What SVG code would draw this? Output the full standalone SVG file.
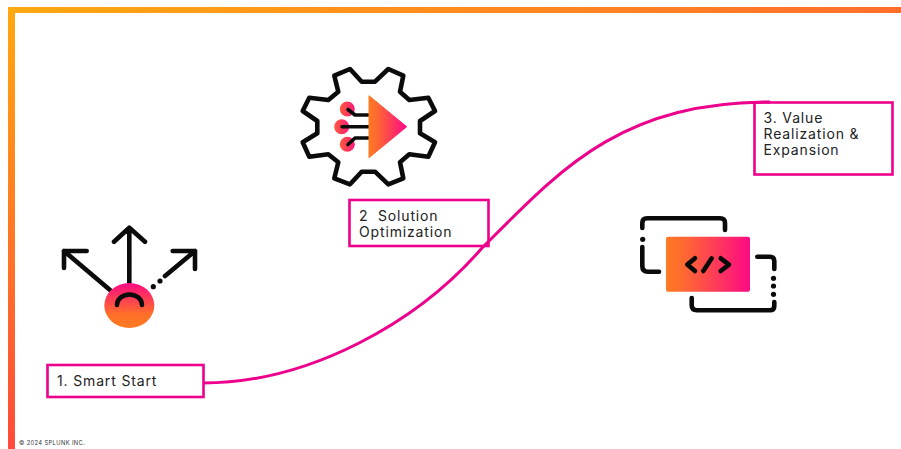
<svg xmlns="http://www.w3.org/2000/svg" width="901" height="449" viewBox="0 0 901 449">
<style>
.box{fill:none;stroke:#EC008C;stroke-width:2.6}
.lb{font-family:Inter,"Liberation Sans",sans-serif;font-size:14px;letter-spacing:.85px;fill:#222}
.ic{fill:none;stroke:#0b0b0b;stroke-width:4.6;stroke-linecap:round;stroke-linejoin:round}
.dot{fill:#0b0b0b}
</style>
<defs>
<linearGradient id="gTop" x1="0" x2="1" y1="0" y2="0"><stop offset="0" stop-color="#FFA80F"/><stop offset="1" stop-color="#FF6F2C"/></linearGradient>
<linearGradient id="gLeft" x1="0" x2="0" y1="0" y2="1"><stop offset="0" stop-color="#FFA80F"/><stop offset="1" stop-color="#FF4A3A"/></linearGradient>
<linearGradient id="gOP" x1="0" x2="1" y1="0" y2="0"><stop offset="0" stop-color="#FF7A22"/><stop offset=".2" stop-color="#FF6A30"/><stop offset="1" stop-color="#FF0A84"/></linearGradient>
<linearGradient id="gPO" x1="0" x2="0" y1="0" y2="1"><stop offset="0" stop-color="#FF0A84"/><stop offset=".7" stop-color="#FF7028"/><stop offset="1" stop-color="#FF7A22"/></linearGradient>
<linearGradient id="gDots" x1="0" x2="1" y1="0" y2="0"><stop offset="0" stop-color="#FF5A3C"/><stop offset="1" stop-color="#FF1A7A"/></linearGradient>
</defs>
<rect width="901" height="449" fill="#fff"/>
<g id="frame">
<rect x="8" y="7" width="893" height="6" fill="url(#gTop)"/>
<rect x="8" y="7" width="7" height="442" fill="url(#gLeft)"/>
</g>
<g id="connectors">
<path d="M203 383C310 383 418 322 482 248C560 170 620 102 770 102" fill="none" stroke="#EC008C" stroke-width="3"/>
</g>
<g id="node-smart-start">
<rect class="box" x="47.5" y="365" width="156" height="32"/>
<text class="lb" x="57" y="385.5">1. Smart Start</text>
</g>
<g id="icon-arrows">
<path class="ic" d="M129.3 283V228M114 241.7L129.3 227.7L145 241.7M110 290L64 251M64 268V251H86.7M165 276L195 251M172.7 251H195V269"/>
<circle class="dot" cx="160" cy="281" r="2.6"/>
<circle class="dot" cx="153.3" cy="286.7" r="2.6"/>
<ellipse cx="129.3" cy="305.5" rx="25" ry="22.5" fill="url(#gPO)"/>
<path class="ic" d="M117 305A12.5 10.5 0 0 1 142 305"/>
</g>
<g id="node-solution">
<rect class="box" x="349.5" y="200" width="139" height="46"/>
<text class="lb" x="359" y="220.5" xml:space="preserve">2  Solution</text>
<text class="lb" x="359" y="236.5">Optimization</text>
</g>
<g id="icon-gear">
<path class="ic" d="M334.3 75.7L350 69L361.7 81.7H375L388.3 69L403.3 75.7L400 91.7L409.3 100L428.3 97.7L435 111L420 121V133.3L435 142.3L428.3 156.7L409.3 154.3L400 162.3L403.3 178.3L388.3 184.3L375 171.7H361.7L350 184.3L334.3 178.3L338.3 162.3L328.3 154.3L309.3 156.7L302.7 142.3L317.3 133.3V121L302.7 111L309.3 97.7L328.3 100L338.3 91.7Z"/>
<circle cx="347.3" cy="109" r="7.5" fill="url(#gDots)"/>
<circle cx="341.7" cy="126.7" r="7.5" fill="url(#gDots)"/>
<circle cx="347.3" cy="144.3" r="7.5" fill="url(#gDots)"/>
<path class="ic" style="stroke-width:3.6" d="M348 109.5L355 115H369M342 126.7H369M348 144.5L355 138H369"/>
<path d="M369 95.7L406.7 126.7L369 157.7Z" fill="url(#gOP)" stroke="url(#gOP)" stroke-width="1" stroke-linejoin="round"/>
</g>
<g id="node-value">
<rect class="box" x="754.5" y="102.5" width="138" height="72"/>
<text class="lb" x="763.5" y="122.5">3. Value</text>
<text class="lb" x="763.5" y="138.5">Realization &amp;</text>
<text class="lb" x="763.5" y="154.5">Expansion</text>
</g>
<g id="icon-code">
<path class="ic" d="M725 230V223Q725 218.3 720 218.3H647Q642.3 218.3 642.3 223V228M642.3 247V266Q642.3 271.7 648 271.7H659M757.3 256.7H770Q774.3 256.7 774.3 261V269M691.7 298V305Q691.7 310.3 697 310.3H770Q774.3 310.3 774.3 306V302"/>
<circle class="dot" cx="642.7" cy="239.3" r="2.6"/>
<circle class="dot" cx="773.5" cy="278.3" r="2.6"/>
<circle class="dot" cx="773.5" cy="286" r="2.6"/>
<circle class="dot" cx="773.5" cy="294.3" r="2.6"/>
<rect x="666" y="236.7" width="84" height="55" rx="2" fill="url(#gOP)"/>
<path class="ic" d="M695 258.3L687.3 264.6L695 271M711.7 258.3L703.3 271M720.7 258.3L729 264.6L720.7 271"/>
</g>
<text id="copyright" x="19" y="445" font-family="Inter,'Liberation Sans',sans-serif" font-size="5.8" letter-spacing=".36" fill="#333">© 2024 SPLUNK INC.</text>
</svg>
